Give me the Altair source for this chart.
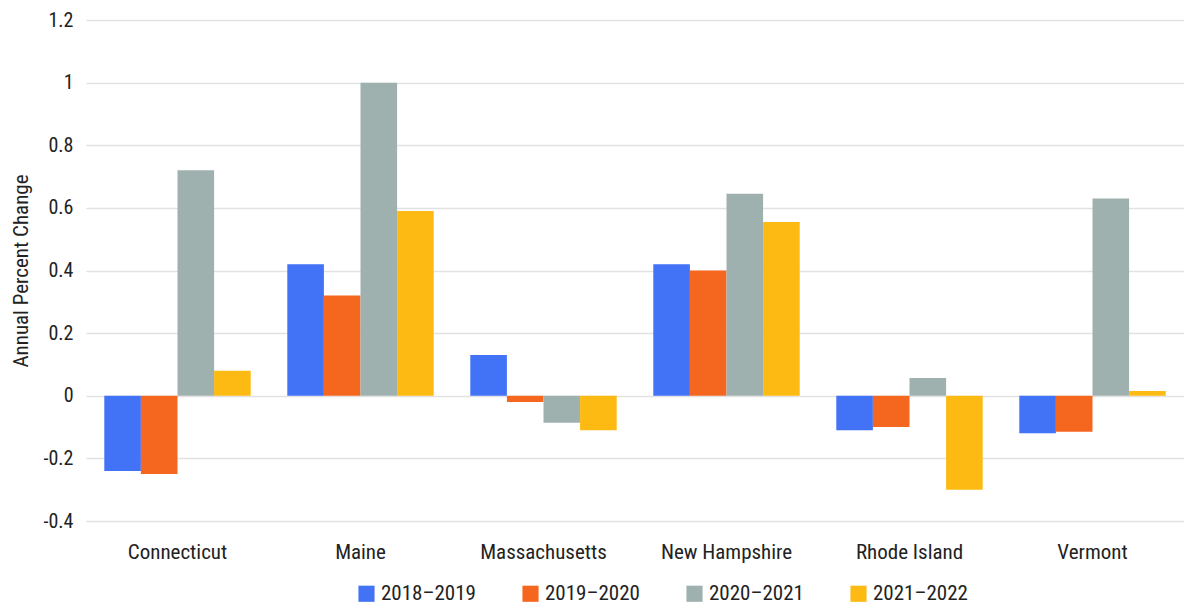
import altair as alt
import pandas as pd

states = ["Connecticut", "Maine", "Massachusetts", "New Hampshire", "Rhode Island", "Vermont"]
periods = ["2018\u20132019", "2019\u20132020", "2020\u20132021", "2021\u20132022"]
v_2018_2019 = [-0.24, 0.42, 0.13, 0.42, -0.11, -0.12]
v_2019_2020 = [-0.25, 0.32, -0.02, 0.40, -0.10, -0.115]
v_2020_2021 = [0.72, 1.00, -0.086, 0.645, 0.057, 0.63]
v_2021_2022 = [0.08, 0.59, -0.11, 0.555, -0.30, 0.015]
colors = ["#4272f5", "#f5661f", "#9fb1af", "#fcba12"]

series = [v_2018_2019, v_2019_2020, v_2020_2021, v_2021_2022]
rows = []
for p, vals in zip(periods, series):
    for s, v in zip(states, vals):
        rows.append({"state": s, "period": p, "value": v})
df = pd.DataFrame(rows)

font = "'Roboto Condensed', 'Arial Narrow', 'Liberation Sans Narrow', Roboto, sans-serif"

chart = alt.Chart(df).mark_bar().encode(
    x=alt.X("state:N", sort=states, title=None,
            scale=alt.Scale(paddingInner=0.2, paddingOuter=0.1),
            axis=alt.Axis(labelAngle=0, domain=False, ticks=False, labelFont=font,
                          labelFontSize=21, labelColor="#222", labelPadding=20, grid=False)),
    xOffset=alt.XOffset("period:N", sort=periods, scale=alt.Scale(paddingInner=0, paddingOuter=0)),
    y=alt.Y("value:Q", title="Annual Percent Change",
            scale=alt.Scale(domain=[-0.4, 1.2], nice=False),
            axis=alt.Axis(values=[-0.4, -0.2, 0, 0.2, 0.4, 0.6, 0.8, 1, 1.2],
                          labelExpr="datum.value < 0 ? '-' + format(-datum.value, '~g') : format(datum.value, '~g')",
                          domain=False, ticks=False, labelFont=font, labelFontSize=20,
                          labelColor="#222", labelPadding=13, titleFont=font,
                          titleFontSize=21, titleFontWeight="normal", titleColor="#222",
                          titlePadding=12, gridColor="#e2e2e2", gridWidth=1.5)),
    color=alt.Color("period:N", sort=periods,
                    scale=alt.Scale(domain=periods, range=colors),
                    legend=alt.Legend(title=None, orient="none", direction="horizontal",
                                      legendX=270, legendY=563,
                                      symbolType="square", symbolSize=260, symbolStrokeWidth=0,
                                      labelFont=font, labelFontSize=21, labelColor="#222",
                                      columnPadding=44, symbolOffset=0)),
).properties(
    width=1098, height=501,
    padding={"top": 2, "left": 2, "right": 0, "bottom": 0},
).configure(background="white").configure_view(stroke=None)

chart.save("out.html", embed_options={"renderer": "svg", "actions": False})
